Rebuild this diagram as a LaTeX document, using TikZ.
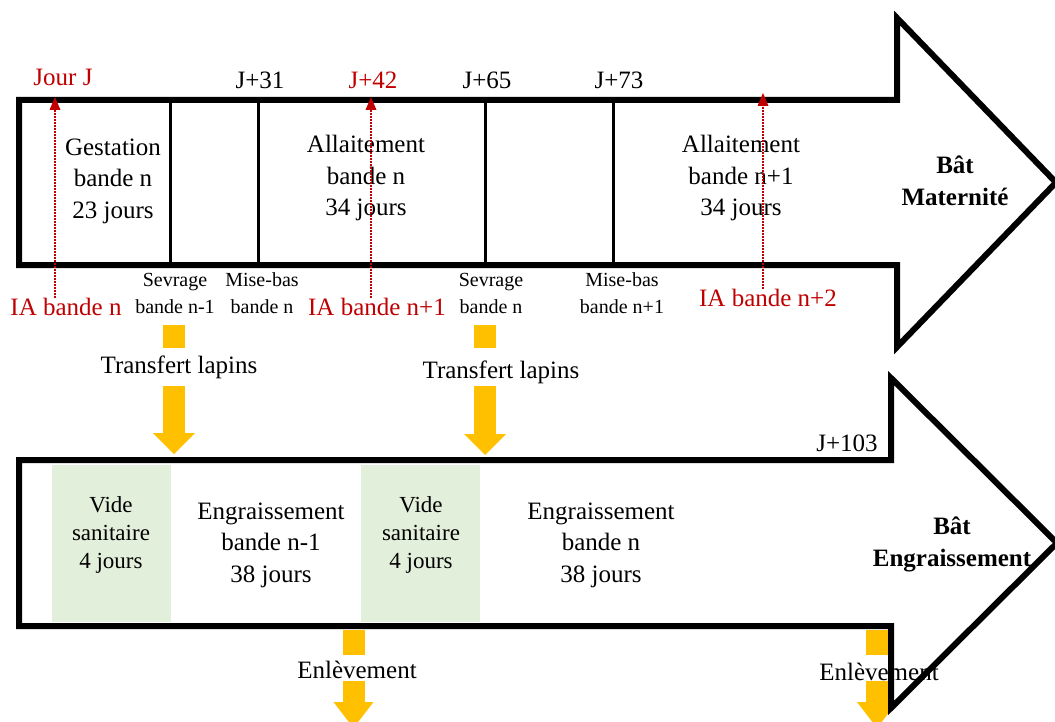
\documentclass[tikz,border=0pt]{standalone}
\usepackage{fontspec}
\setmainfont{Liberation Serif}
\usetikzlibrary{arrows.meta}
\definecolor{ared}{RGB}{192,0,0}
\definecolor{ayel}{RGB}{255,192,0}
\definecolor{agreen}{RGB}{226,239,218}

% outlines of the two building arrows
\newcommand\matpath{(19,100) -- (897,100) -- (897,18) -- (1056,182.5) -- (897,347) -- (897,265) -- (19,265) -- cycle}
\newcommand\engpath{(19,460) -- (891,460) -- (891,378) -- (1057,543) -- (891,708) -- (891,626) -- (19,626) -- cycle}

\begin{document}
\begin{tikzpicture}[x=1pt,y=-1pt,
  outline/.style={line width=6pt, line join=miter, miter limit=10},
  divider/.style={line width=3pt},
  txt/.style={inner sep=0pt, align=center, font=\fontsize{25}{31.5}\selectfont},
  bold/.style={txt, font=\fontsize{25}{32}\selectfont\bfseries},
  small/.style={inner sep=0pt, align=center, font=\fontsize{20}{27}\selectfont},
  vide/.style={inner sep=0pt, align=center, font=\fontsize{23}{28}\selectfont},
  redtxt/.style={txt, text=ared},
  iaarrow/.style={draw=ared, line width=1.1pt, dash pattern=on 2pt off 1pt,
    -{Triangle[length=13pt,width=11pt,line width=0pt]}},
  ysq/.style={fill=ayel, inner sep=0pt, minimum width=22pt, minimum height=23pt},
  flow/.style={draw=ayel, line width=22pt,
    -{Triangle[length=21pt,width=42pt,line width=0pt]}},
  greenbox/.style={fill=agreen}
]
\useasboundingbox (0,0) rectangle (1055,722);
\clip (0,0) rectangle (1055,722);

% arrow bodies
\fill[white] \matpath;
\fill[white] \engpath;

% sanitary emptying periods
\fill[greenbox] (52,465) rectangle (171,622);
\fill[greenbox] (361,465) rectangle (480,622);

% period dividers in the maternity building
\draw[divider] (170,100) -- (170,265);
\draw[divider] (258,100) -- (258,265);
\draw[divider] (485,100) -- (485,265);
\draw[divider] (613,100) -- (613,265);

% day markers
\node[redtxt] (jourj) at (63,77) {Jour J};
\node[txt] (j31) at (260,80) {J+31};
\node[redtxt] (j42) at (373,80) {J+42};
\node[txt] (j65) at (487,80) {J+65};
\node[txt] (j73) at (619,80) {J+73};
\node[txt] (j103) at (847,443) {J+103};

% maternity periods
\node[txt] (gest) at (113,181) {Gestation\\bande n\\23 jours};
\node[txt] (all1) at (366,178) {Allaitement\\bande n\\34 jours};
\node[txt] (all2) at (741,178) {Allaitement\\bande n+1\\34 jours};
\node[bold] (mat) at (955,181) {Bât\\Maternité};

% events under the maternity building
\node[small] (sev1) at (175,293) {Sevrage\\bande n-1};
\node[small] (mb1) at (262,293) {Mise-bas\\bande n};
\node[small] (sev2) at (491,293) {Sevrage\\bande n};
\node[small] (mb2) at (622,293) {Mise-bas\\bande n+1};
\node[redtxt] (ia1) at (66,307) {IA bande n};
\node[redtxt] (ia2) at (377,307) {IA bande n+1};
\node[redtxt] (ia3) at (768,298) {IA bande n+2};

% transfers to the fattening building
\node[ysq] (sq1) at (174,336.5) {};
\node[ysq] (sq2) at (485,336.5) {};
\node[txt] (tr1) at (179,367) {Transfert lapins};
\node[txt] (tr2) at (501,372) {Transfert lapins};
\coordinate (t1a) at (174,386);
\coordinate (t1b) at (174,454);
\coordinate (t2a) at (485,386);
\coordinate (t2b) at (485,455);
\draw[flow] (t1a) -- (t1b);
\draw[flow] (t2a) -- (t2b);

% fattening periods
\node[vide] (v1) at (111,535) {Vide\\sanitaire\\4 jours};
\node[vide] (v2) at (421,535) {Vide\\sanitaire\\4 jours};
\node[txt] (eng1) at (271,545) {Engraissement\\bande n-1\\38 jours};
\node[txt] (eng2) at (601,545) {Engraissement\\bande n\\38 jours};
\node[bold] (bat2) at (952,544) {Bât\\Engraissement};

% removals
\node[ysq, minimum height=25pt] (sq3) at (353.5,642.5) {};
\node[ysq, minimum height=25pt] (sq4) at (877,642.5) {};
\node[txt] (enl1) at (357,670) {Enlèvement};
\node[txt] (enl2) at (879,672) {Enlèvement};
\coordinate (e1a) at (353.5,681);
\coordinate (e1b) at (353.5,728);
\coordinate (e2a) at (877,681);
\coordinate (e2b) at (877,728);
\draw[flow, -{Triangle[length=26pt,width=40pt,line width=0pt]}] (e1a) -- (e1b);
\draw[flow, -{Triangle[length=26pt,width=40pt,line width=0pt]}] (e2a) -- (e2b);

% arrow outlines
\draw[outline] \matpath;
\draw[outline] \engpath;

% inseminations
\coordinate (r1) at (55,97);
\coordinate (r2) at (371,97);
\coordinate (r3) at (763,93);
\draw[iaarrow] (r1 |- ia1.north) -- (r1);
\draw[iaarrow] (r2 |- ia2.north) -- (r2);
\draw[iaarrow] (r3 |- ia3.north) -- (r3);
\end{tikzpicture}
\end{document}
